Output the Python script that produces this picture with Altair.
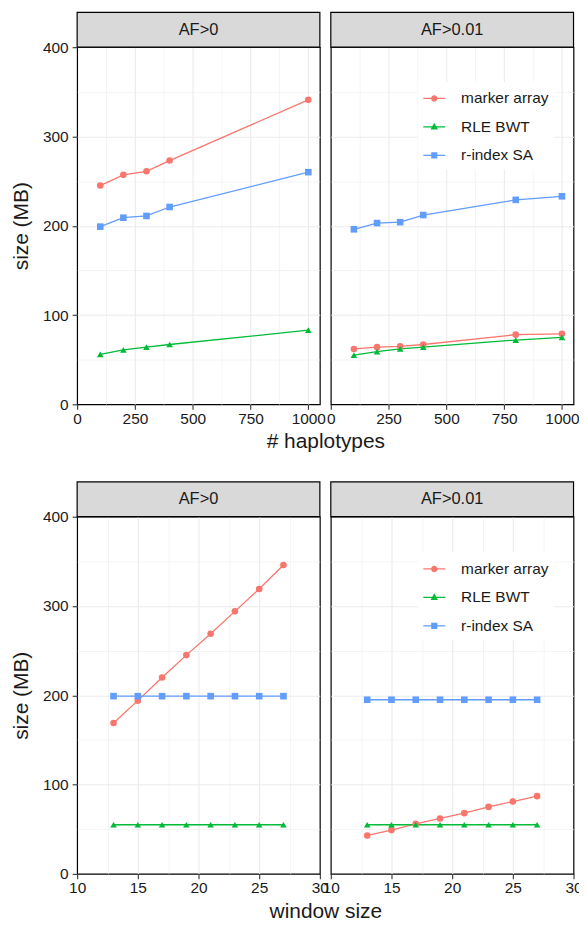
import altair as alt
import pandas as pd

SERIES = ["marker array", "RLE BWT", "r-index SA"]
COLORS = ["#F8766D", "#00BA38", "#619CFF"]
SHAPES = ["circle", "triangle-up", "square"]

# top row: x = number of haplotypes
hap_af0_x = [100, 200, 300, 400, 1000]
hap_af0_marker = [245, 257, 261, 273, 341]
hap_af0_rle = [56, 61, 64, 67, 83]
hap_af0_ridx = [199, 209, 211, 221, 260]

hap_af001_x = [100, 200, 300, 400, 800, 1000]
hap_af001_marker = [62, 64, 65, 67, 78, 79]
hap_af001_rle = [55, 59, 62, 64, 72, 75]
hap_af001_ridx = [196, 203, 204, 212, 229, 233]

# bottom row: x = window size
win_x = [13, 15, 17, 19, 21, 23, 25, 27]
win_af0_marker = [169, 194, 220, 245, 269, 294, 319, 346]
win_af0_rle = [55, 55, 55, 55, 55, 55, 55, 55]
win_af0_ridx = [199, 199, 199, 199, 199, 199, 199, 199]
win_af001_marker = [43, 49, 56, 62, 68, 75, 81, 87]
win_af001_rle = [55, 55, 55, 55, 55, 55, 55, 55]
win_af001_ridx = [195, 195, 195, 195, 195, 195, 195, 195]

hap_ticks = [0, 125, 250, 375, 500, 625, 750, 875, 1000]
win_ticks = [10, 12.5, 15, 17.5, 20, 22.5, 25, 27.5, 30]
y_ticks = [0, 50, 100, 150, 200, 250, 300, 350, 400]

FONT = "Liberation Sans"
PW, PH, SH, GAP = 244, 359, 35, 11
TXT = "#1a1a1a"
TICK_FS, TITLE_FS, STRIP_FS, LEG_FS = 15.5, 21, 16.5, 15.5

# legend key glyphs: a short line with the series' point shape on it
LEGEND_KEYS = [
    "M-1,-0.055H1V0.055H-1Z"
    "M0.29,0A0.29,0.29,0,1,1,-0.29,0A0.29,0.29,0,1,1,0.29,0Z",
    "M-1,-0.055H1V0.055H-1Z"
    "M0,-0.37L0.34,0.23L-0.34,0.23Z",
    "M-1,-0.055H1V0.055H-1Z"
    "M-0.28,-0.28H0.28V0.28H-0.28Z",
]


def frame(x, marker, rle, ridx):
    rows = []
    for name, vals in zip(SERIES, [marker, rle, ridx]):
        for xv, yv in zip(x, vals):
            rows.append({"x": xv, "size": yv, "series": name})
    return pd.DataFrame(rows)


def cond(test, a, b):
    return {"condition": {"test": test, "value": a}, "value": b}


def make_legend(ly):
    return alt.Legend(
        title=None, orient="none", legendX=87.5, legendY=ly, fillColor="white",
        padding=5.5, symbolSize=484, symbolOpacity=1, symbolStrokeWidth=0,
        labelFontSize=LEG_FS, labelFont=FONT, labelColor=TXT, labelOffset=16,
        rowPadding=8.6,
    )


def panel(df, label, xdom, xvals, major, edges_x, left, legend_y, xtitle):
    xt = f"datum.value % {major} === 0"
    xedge = " || ".join(f"datum.value === {e}" for e in edges_x)
    yt = "datum.value % 100 === 0"
    yedge = "datum.value === 0 || datum.value === 400"

    xaxis_kw = dict(
        values=xvals, format="d",
        labelExpr=f"{xt} ? datum.label : ''",
        grid=True, gridColor="#ebebeb",
        gridWidth=cond(xt, 1.1, 0.55),
        gridOpacity=cond(xedge, 0, 1),
        ticks=True, tickColor="#333333", tickSize=5, tickWidth=1.1,
        tickOpacity=cond(xt, 1, 0),
        domain=False, labelFontSize=TICK_FS, labelFont=FONT, labelColor=TXT,
        labelPadding=2, labelFlush=False, labelOverlap=False,
    )
    if left:
        xaxis_kw.update(title=xtitle, titleX=PW + GAP / 2, titleAlign="center",
                        titleFontSize=TITLE_FS, titleFont=FONT, titleColor=TXT,
                        titleFontWeight="normal", titlePadding=4)
    else:
        xaxis_kw.update(title=None)
    xaxis = alt.Axis(**xaxis_kw)

    yaxis_kw = dict(
        values=y_ticks, grid=True, gridColor="#ebebeb",
        gridWidth=cond(yt, 1.1, 0.55), gridOpacity=cond(yedge, 0, 1),
        domain=False,
    )
    if left:
        yaxis_kw.update(
            labelExpr=f"{yt} ? datum.label : ''", ticks=True,
            tickColor="#333333", tickSize=5, tickWidth=1.1,
            tickOpacity=cond(yt, 1, 0), labelFontSize=TICK_FS, labelFont=FONT,
            labelColor=TXT, labelPadding=4, labelOverlap=False,
            title="size (MB)", titleFontSize=TITLE_FS, titleFont=FONT,
            titleColor=TXT, titleFontWeight="normal", titlePadding=11)
    else:
        yaxis_kw.update(labels=False, ticks=False, title=None)
    yaxis = alt.Axis(**yaxis_kw)

    xenc = alt.X("x:Q", scale=alt.Scale(domain=xdom, nice=False, zero=False), axis=xaxis)
    yenc = alt.Y("size:Q", scale=alt.Scale(domain=[0, 400], nice=False), axis=yaxis)
    cscale = alt.Scale(domain=SERIES, range=COLORS)

    base = alt.Chart(df)
    line = base.mark_line(strokeWidth=1.3).encode(
        x=xenc, y=yenc,
        color=alt.Color("series:N", scale=cscale, legend=None),
    )
    pts = base.mark_point(filled=True, opacity=1, size=44).encode(
        x=xenc, y=yenc,
        color=alt.Color("series:N", scale=cscale, legend=None),
        shape=alt.Shape("series:N", scale=alt.Scale(domain=SERIES, range=SHAPES),
                        legend=None),
    )

    strip_df = pd.DataFrame({"label": [label]})
    strip_rect = alt.Chart(strip_df).mark_rect(
        fill="#d9d9d9", stroke="black", strokeWidth=1.2
    ).encode(x=alt.value(0), x2=alt.value(PW), y=alt.value(-SH), y2=alt.value(0))
    strip_text = alt.Chart(strip_df).mark_text(
        fontSize=STRIP_FS, font=FONT, color=TXT, baseline="middle", align="center"
    ).encode(text="label:N", x=alt.value(PW / 2), y=alt.value(-SH / 2))

    layers = [line, pts]
    if legend_y is not None:
        lg = make_legend(legend_y)
        key = base.mark_point(filled=True, opacity=1).encode(
            x=xenc, y=yenc,
            color=alt.Color("series:N", scale=cscale, legend=lg),
            shape=alt.Shape("series:N",
                            scale=alt.Scale(domain=SERIES, range=LEGEND_KEYS),
                            legend=lg),
        ).transform_filter("false")
        layers.append(key)
    layers += [strip_rect, strip_text]

    return alt.layer(*layers).resolve_scale(
        color="independent", shape="independent"
    ).resolve_legend(
        color="independent", shape="independent"
    ).properties(width=PW, height=PH)


top_l = panel(frame(hap_af0_x, hap_af0_marker, hap_af0_rle, hap_af0_ridx),
              "AF>0", [0, 1050], hap_ticks, 250, [0], True, None, "# haplotypes")
top_r = panel(frame(hap_af001_x, hap_af001_marker, hap_af001_rle, hap_af001_ridx),
              "AF>0.01", [0, 1050], hap_ticks, 250, [0], False, 35, "")
bot_l = panel(frame(win_x, win_af0_marker, win_af0_rle, win_af0_ridx),
              "AF>0", [10, 30], win_ticks, 5, [10, 30], True, None, "window size")
bot_r = panel(frame(win_x, win_af001_marker, win_af001_rle, win_af001_ridx),
              "AF>0.01", [10, 30], win_ticks, 5, [10, 30], False, 36, "")

chart = alt.concat(
    top_l, top_r, bot_l, bot_r, columns=2,
    spacing={"row": 113, "column": GAP}, bounds="flush",
).resolve_scale(
    color="independent", shape="independent"
).resolve_legend(
    color="independent", shape="independent"
).properties(
    padding={"left": 1.5, "top": 0, "right": -4.5, "bottom": -4.4},
    background="white",
).configure_view(stroke="black", strokeWidth=1.2, fill="white")

chart.save("out.html", embed_options={"renderer": "svg", "actions": False})
